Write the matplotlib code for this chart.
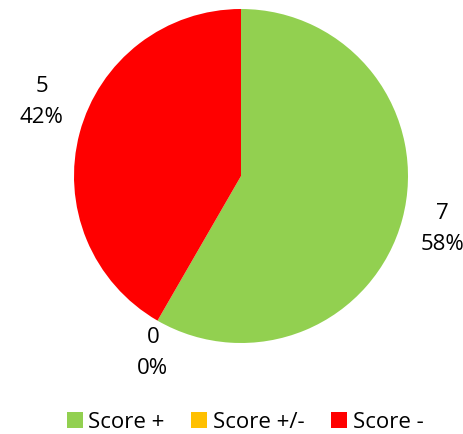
import matplotlib
matplotlib.use("Agg")
import matplotlib.pyplot as plt
from matplotlib.patches import Patch
import numpy as np

categories = ["Score +", "Score +/-", "Score -"]
values = [7, 0, 5]
colors = ["#92D050", "#FFC000", "#FF0000"]

plt.rcParams['font.family'] = ['Open Sans', 'DejaVu Sans']

fig = plt.figure(figsize=(4.64, 4.35), dpi=100)
ax = fig.add_axes([74/464, 1 - 344/435, 334/464, 334/435])
total = sum(values)
labels = [f"{v}\n{round(100*v/total)}%" for v in values]
wedges, texts = ax.pie(values, colors=colors, startangle=90, counterclock=False,
                       labels=labels, labeldistance=1.2,
                       textprops=dict(fontsize=16, color="#000000", linespacing=1.6),
                       wedgeprops=dict(linewidth=0))
# label placement (radius, angle in degrees) mimicking Excel best-fit
label_pos = [(1.245, -14.5), (1.18, -116.6), (1.275, 159.3)]
for t, (r, a) in zip(texts, label_pos):
    t.set_position((r*np.cos(np.radians(a)), r*np.sin(np.radians(a))))
    t.set_ha('center')
    t.set_va('center')
ax.set_aspect('equal')
ax.set_xlim(-1, 1)
ax.set_ylim(-1, 1)

handles = [Patch(facecolor=c, edgecolor='none') for c in colors]
fig.legend(handles, categories, loc='center', bbox_to_anchor=(245/464, 1 - 423/435),
           ncol=3, frameon=False, fontsize=16, handlelength=0.72, handleheight=0.72,
           handletextpad=0.25, columnspacing=1.2, borderaxespad=0, borderpad=0,
           labelcolor="#000000")
fig.savefig("out.png", dpi=100)
